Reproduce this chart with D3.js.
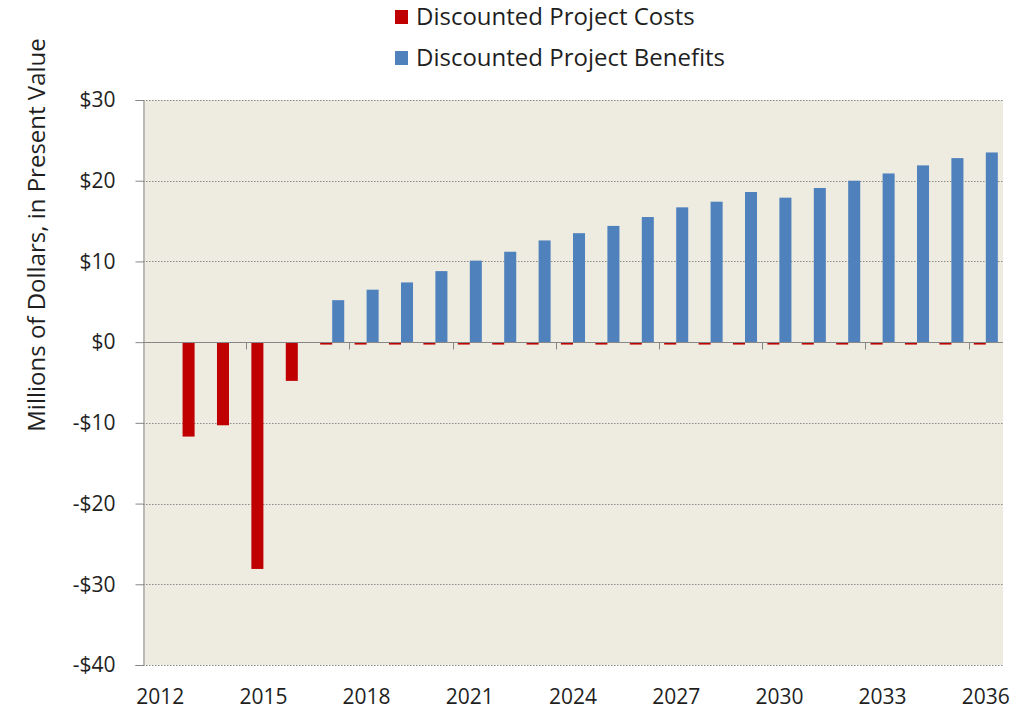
<!DOCTYPE html>
<html>
<head>
<meta charset="utf-8">
<script src="https://cdnjs.cloudflare.com/ajax/libs/d3/7.8.5/d3.min.js"></script>
<style>
  body { margin: 0; background: #fff; }
</style>
</head>
<body>
<div id="chart"></div>
<script>
// Data (millions of dollars, present value)
var years = d3.range(2012, 2037);
var costs = [0, -11.7, -10.3, -28.1, -4.8,
    -0.3, -0.3, -0.3, -0.3, -0.3, -0.3, -0.3, -0.3, -0.3, -0.3,
    -0.3, -0.3, -0.3, -0.3, -0.3, -0.3, -0.3, -0.3, -0.3, -0.3];
var benefits = [0, 0, 0, 0, 0,
    5.2, 6.5, 7.4, 8.8, 10.1, 11.2, 12.6, 13.5, 14.4, 15.5,
    16.7, 17.4, 18.6, 17.9, 19.1, 20.0, 20.9, 21.9, 22.8, 23.5];
var seriesNames = ['Discounted Project Costs', 'Discounted Project Benefits'];
var yTicks = [30, 20, 10, 0, -10, -20, -30, -40];
var xLabelYears = [2012, 2015, 2018, 2021, 2024, 2027, 2030, 2033, 2036];

var attrs = {
    svgWidth: 1031,
    svgHeight: 714,
    plotLeft: 143,
    plotRight: 1003,
    plotTop: 100,
    plotBottom: 665,
    font: '"Open Sans", Lato, sans-serif',
    tickFontSize: 21,
    legendFontSize: 24,
    titleFontSize: 24,
    textFill: '#1f1f1f',
    plotBackground: '#EEECE1',
    axisColor: '#868686',
    gridColor: '#8a8a8a',
    colors: ['#C00000', '#4F81BD']
};

var rows = years.map(function (y, i) {
    return { year: y, values: [costs[i], benefits[i]] };
});

var svg = d3.select('#chart').append('svg')
    .attr('width', attrs.svgWidth)
    .attr('height', attrs.svgHeight)
    .attr('font-family', attrs.font)
    .style('background-color', '#fff');

// scales
var x0 = d3.scaleBand()
    .domain(years)
    .range([attrs.plotLeft, attrs.plotRight])
    .paddingInner(0)
    .paddingOuter(0);

var x1 = d3.scaleBand()
    .domain([0, 1])
    .range([0, x0.bandwidth()])
    .paddingInner(0)
    .paddingOuter(0.43);

var y = d3.scaleLinear()
    .domain([-40, 30])
    .range([attrs.plotBottom, attrs.plotTop]);

// plot background
svg.append('rect')
    .attr('x', attrs.plotLeft)
    .attr('y', attrs.plotTop)
    .attr('width', attrs.plotRight - attrs.plotLeft)
    .attr('height', attrs.plotBottom - attrs.plotTop)
    .attr('fill', attrs.plotBackground);

// dotted gridlines
svg.append('g').selectAll('line')
    .data(yTicks.filter(function (d) { return d !== 0; }))
    .enter().append('line')
    .attr('x1', attrs.plotLeft)
    .attr('x2', attrs.plotRight)
    .attr('y1', function (d) { return Math.round(y(d)) + 0.5; })
    .attr('y2', function (d) { return Math.round(y(d)) + 0.5; })
    .attr('stroke', attrs.gridColor)
    .attr('stroke-width', 1)
    .attr('stroke-dasharray', '1.5,1.5');

// bars
var groups = svg.append('g').selectAll('g')
    .data(rows)
    .enter().append('g')
    .attr('transform', function (d) { return 'translate(' + x0(d.year) + ',0)'; });

groups.selectAll('rect')
    .data(function (d) { return d.values.map(function (v, k) { return { k: k, v: v }; }); })
    .enter().append('rect')
    .filter(function (d) { return d.v !== 0; })
    .attr('x', function (d) { return x1(d.k); })
    .attr('width', x1.bandwidth())
    .attr('y', function (d) { return y(Math.max(0, d.v)); })
    .attr('height', function (d) { return Math.abs(y(d.v) - y(0)); })
    .attr('fill', function (d) { return attrs.colors[d.k]; });

// y axis
var yAxis = d3.axisLeft(y)
    .tickValues(yTicks)
    .tickSize(8)
    .tickPadding(20)
    .tickFormat(function (d) { return (d < 0 ? '-$' : '$') + Math.abs(d); });

var gy = svg.append('g')
    .attr('transform', 'translate(' + (attrs.plotLeft + 0.5) + ',0)')
    .call(yAxis);
gy.select('.domain').attr('stroke', attrs.axisColor);
gy.selectAll('.tick line').attr('stroke', attrs.axisColor);
gy.selectAll('.tick text')
    .attr('font-family', attrs.font)
    .attr('font-size', attrs.tickFontSize)
    .attr('fill', attrs.textFill);

// zero line with category tick marks
var zeroY = Math.round(y(0)) + 0.5;
svg.append('line')
    .attr('x1', attrs.plotLeft)
    .attr('x2', attrs.plotRight)
    .attr('y1', zeroY)
    .attr('y2', zeroY)
    .attr('stroke', attrs.axisColor);

svg.append('g').selectAll('line')
    .data(years.filter(function (d, i) { return i % 3 === 0 && i > 0; }))
    .enter().append('line')
    .attr('x1', function (d) { return Math.round(x0(d)) + 0.5; })
    .attr('x2', function (d) { return Math.round(x0(d)) + 0.5; })
    .attr('y1', zeroY)
    .attr('y2', zeroY + 7)
    .attr('stroke', attrs.axisColor);

// x labels
svg.append('g').selectAll('text')
    .data(xLabelYears)
    .enter().append('text')
    .attr('x', function (d) { return x0(d) + x0.bandwidth() / 2; })
    .attr('y', 704)
    .attr('text-anchor', 'middle')
    .attr('font-size', attrs.tickFontSize)
    .attr('fill', attrs.textFill)
    .text(function (d) { return d; });

// y title
svg.append('text')
    .attr('transform', 'translate(45,235) rotate(-90)')
    .attr('text-anchor', 'middle')
    .attr('font-size', attrs.titleFontSize)
    .attr('fill', attrs.textFill)
    .text('Millions of Dollars, in Present Value');

// legend
var legend = svg.append('g').selectAll('g')
    .data(seriesNames)
    .enter().append('g')
    .attr('transform', function (d, i) { return 'translate(395,' + (10 + i * 41) + ')'; });

legend.append('rect')
    .attr('width', 13)
    .attr('height', 14)
    .attr('fill', function (d, i) { return attrs.colors[i]; });

legend.append('text')
    .attr('x', 21)
    .attr('y', 15)
    .attr('font-size', attrs.legendFontSize)
    .attr('fill', attrs.textFill)
    .text(function (d) { return d; });
</script>
</body>
</html>
